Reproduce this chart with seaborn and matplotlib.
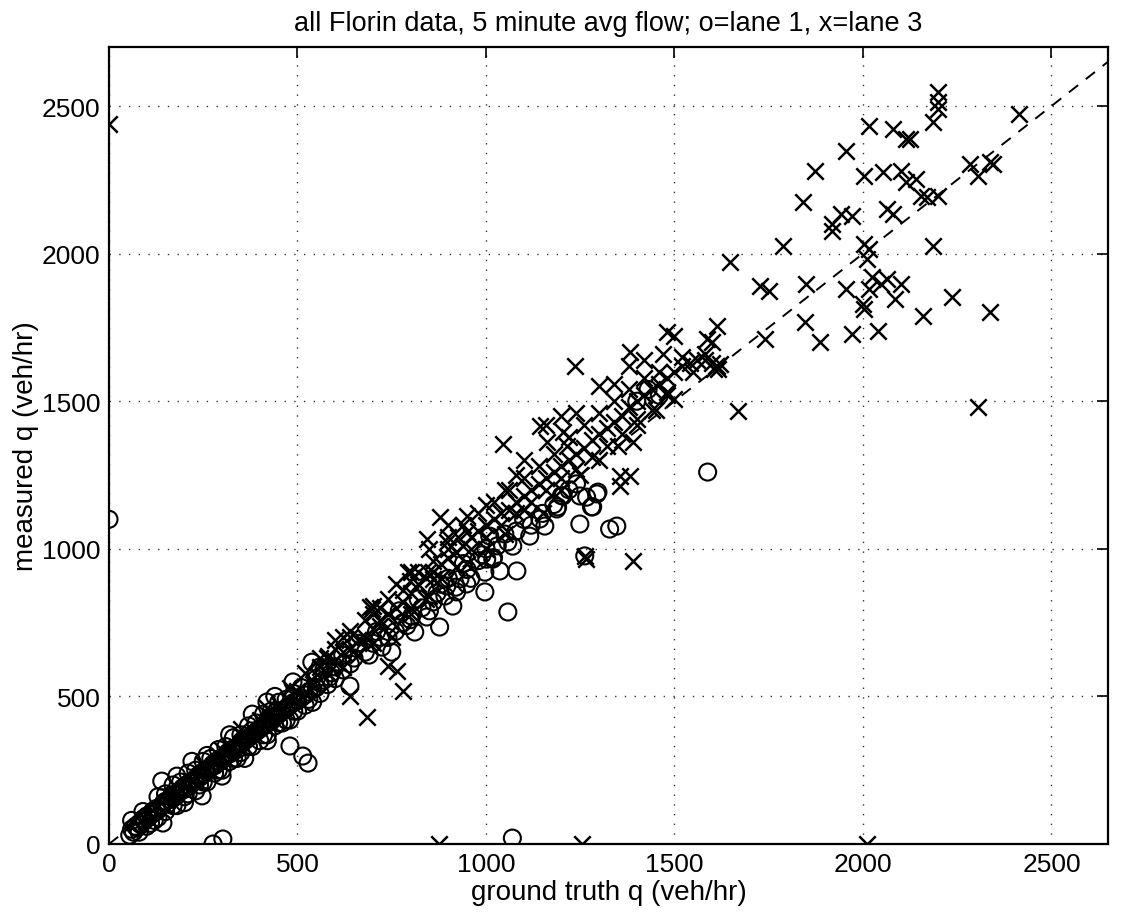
import matplotlib
matplotlib.use("Agg")
import matplotlib.pyplot as plt
import seaborn as sns
import pandas as pd

# ---- data ----
lane1_truth = [55, 60, 65, 70, 75, 80, 85, 90, 95, 100, 105, 110, 115, 120, 125, 130, 140, 145, 150, 155,
               160, 165, 170, 175, 180, 185, 190, 195, 200, 205, 210, 215, 220, 225, 230, 235, 240, 245, 250, 255,
               260, 265, 270, 275, 280, 285, 290, 295, 300, 305, 310, 315, 320, 325, 330, 335, 340, 345, 350, 355,
               360, 365, 370, 375, 380, 385, 390, 395, 400, 405, 410, 415, 420, 425, 430, 435, 440, 445, 450, 455,
               460, 465, 470, 475, 480, 490, 500, 510, 520, 530, 540, 550, 560, 570, 585,
               100, 120, 150, 180, 200, 230, 260, 300, 340, 380, 420, 460, 500, 130, 170, 210, 250, 290, 330, 370,
               410, 450, 490,
               60, 80, 90, 110, 130, 150, 170, 190, 210, 230, 250, 270, 290, 310, 330, 350, 370, 390, 410, 430,
               450, 470, 490, 510, 530, 550, 350, 320, 280, 240, 400, 440, 470, 520, 560, 580, 600, 620, 640, 660,
               690, 710, 740, 770, 790, 820, 850, 880, 920, 940, 960, 990, 1020,
               200, 260, 320, 380, 440, 300, 360, 420, 480, 540, 180, 220,
               140, 143, 247, 419, 488, 538, 514, 528, 480, 276, 302, 0, 1070,
               639, 724, 750, 803, 843, 877, 811, 912, 891, 922, 997, 1058, 896, 931, 949, 997, 1037, 1018, 1082,
               1002, 1249, 1249, 1280, 1294, 1262, 1143, 1156, 1116, 1071, 1058, 1188, 1204, 1010, 1347, 1297, 1267,
               1328, 1283, 1190, 1588,
               600, 620, 650, 680, 700, 720, 760, 780, 800, 830, 860, 870, 900, 950, 980, 1000, 1030, 1050, 1080,
               1100, 1120, 1150, 1180, 1200, 1220, 1240, 550, 570, 590, 560, 1400, 1430, 1460]
lane1_measured = [30, 50, 40, 60, 55, 70, 65, 85, 80, 95, 90, 100, 110, 105, 120, 115, 130, 140, 145, 135,
                  150, 160, 155, 170, 165, 175, 180, 190, 185, 200, 195, 210, 205, 215, 220, 230, 225, 240, 235, 250,
                  245, 255, 260, 270, 265, 280, 275, 290, 285, 295, 300, 310, 305, 320, 315, 325, 320, 335, 340, 345,
                  350, 355, 360, 365, 370, 375, 380, 385, 390, 395, 400, 405, 410, 420, 415, 425, 430, 435, 440, 445,
                  450, 455, 460, 465, 470, 480, 485, 495, 505, 515, 525, 530, 545, 555, 565,
                  60, 80, 110, 130, 160, 180, 210, 250, 290, 330, 370, 410, 450, 160, 200, 240, 280, 320, 360, 400,
                  440, 480, 510,
                  80, 40, 110, 70, 90, 170, 130, 210, 170, 250, 210, 290, 250, 330, 290, 370, 330, 410, 370, 450,
                  410, 490, 450, 530, 490, 580, 310, 280, 240, 200, 350, 400, 420, 470, 510, 540, 560, 640, 610, 680,
                  640, 720, 700, 790, 740, 830, 790, 880, 870, 950, 900, 980, 970,
                  140, 300, 370, 440, 500, 230, 290, 350, 420, 480, 230, 280,
                  213, 71, 163, 481, 549, 616, 298, 274, 332, 0, 17, 1100, 20,
                  535, 667, 650, 772, 769, 735, 718, 806, 840, 854, 854, 786, 874, 898, 881, 921, 925, 965, 925,
                  965, 1084, 1179, 1142, 1186, 976, 1101, 1077, 1043, 1009, 1023, 1135, 1179, 1043, 1077, 1192, 1175,
                  1067, 1142, 1142, 1260,
                  600, 590, 630, 650, 680, 700, 720, 750, 760, 800, 820, 850, 900, 930, 960, 1000, 1010, 1050, 1060,
                  1100, 1080, 1120, 1150, 1180, 1200, 1220, 560, 590, 580, 600, 1500, 1540, 1520]

lane3_truth = [250, 300, 350, 400, 450, 500, 350, 420, 480, 520, 560, 600, 640, 620,
               578, 541, 684, 639, 665, 692, 780, 581, 740, 763, 700, 697, 793, 798, 846, 859, 843, 877, 896, 925,
               949, 1045, 1143, 1161, 1204, 1214, 1262, 1265, 1390,
               600, 620, 640, 660, 680, 700, 720, 740, 760, 780, 800, 820, 840, 860, 880, 900, 920, 940, 960, 980,
               1000, 1020, 1040, 1060, 1080, 1100, 1120, 1140, 1160, 1180, 1200, 1220, 1240, 1260, 1280, 1300, 1320,
               1340, 1360, 1380, 1400, 1420, 1440, 1460, 1480, 1500, 1520, 1540, 1560, 1580, 1600, 1610, 1615,
               700, 750, 800, 850, 900, 950, 1000, 1050, 1100, 1150, 1200, 1250, 1300, 1350, 1400, 1450, 1300, 1340,
               1380, 1420, 1470, 1500, 1240, 1200, 1160, 1100, 1080, 1050, 1000, 950, 900, 850, 800, 760, 720,
               560, 600, 620, 640, 660, 680, 700, 720, 740, 760, 780, 800, 820, 840, 860, 880, 900, 920, 940, 960,
               980, 1000, 1020, 1040, 1060, 1080, 1100, 1120, 1140, 1160, 1180, 1200, 1220, 1240, 1260, 1280, 1300,
               1320, 1340, 1360, 1380, 1400, 1420, 1440, 1460, 1480, 1520, 1550, 1580, 1600,
               1646, 1726, 1752, 1739, 1479, 1612, 1585, 1381, 1235, 1612, 1605, 1620, 1668, 1500, 1479, 1389, 1355,
               1381, 1355, 1787,
               2198, 2198, 2198, 2185, 2415, 2017, 2079, 2115, 2124, 1956, 1872, 2004, 2052, 2102, 2115, 2142, 2155,
               2171, 2198, 2283, 2304, 2336, 2344, 1840, 1943, 1970, 1919, 1919, 2063, 2079, 2004, 2017, 2010, 2185,
               1850, 1956, 2025, 2063, 2017, 2049, 2102, 2084, 1999, 2004, 2235, 2336, 2158, 1845, 1885, 1972, 2039,
               2304,
               0, 875, 1255, 2010]
lane3_measured = [270, 320, 370, 420, 470, 520, 390, 460, 530, 580, 630, 690, 720, 700,
                  630, 542, 430, 501, 694, 803, 518, 637, 603, 586, 806, 796, 921, 891, 921, 898, 1033, 1108, 1023,
                  1040, 1057, 1355, 1416, 1362, 1396, 1348, 976, 965, 960,
                  620, 650, 660, 690, 700, 730, 760, 780, 800, 820, 850, 880, 900, 920, 950, 970, 990, 1010, 1040,
                  1060, 1080, 1100, 1120, 1130, 1160, 1180, 1200, 1220, 1240, 1260, 1280, 1300, 1320, 1340, 1370,
                  1390, 1410, 1430, 1450, 1480, 1500, 1520, 1540, 1560, 1580, 1600, 1620, 1630, 1640, 1640, 1630,
                  1620, 1610,
                  780, 700, 780, 840, 1000, 950, 1000, 1050, 1130, 1120, 1200, 1250, 1300, 1350, 1420, 1470, 1550,
                  1560, 1620, 1640, 1660, 1720, 1460, 1450, 1420, 1300, 1250, 1200, 1150, 1110, 1080, 1000, 920, 880,
                  800,
                  600, 660, 600, 700, 640, 760, 680, 740, 830, 740, 860, 800, 920, 830, 960, 900, 1040, 940, 1080,
                  1000, 1120, 1040, 1160, 1080, 1200, 1120, 1240, 1160, 1280, 1200, 1320, 1240, 1380, 1270, 1420,
                  1310, 1460, 1350, 1500, 1390, 1540, 1440, 1580, 1470, 1600, 1520, 1650, 1600, 1660, 1700,
                  1971, 1890, 1873, 1711, 1734, 1755, 1711, 1667, 1619, 1619, 1610, 1625, 1467, 1507, 1531, 1362,
                  1247, 1247, 1213, 2027,
                  2547, 2513, 2490, 2446, 2473, 2432, 2422, 2388, 2388, 2348, 2280, 2263, 2276, 2280, 2243, 2253,
                  2195, 2192, 2195, 2303, 2263, 2310, 2303, 2175, 2134, 2127, 2100, 2077, 2151, 2134, 2033, 2016,
                  1982, 2026, 1897, 1880, 1921, 1914, 1880, 1897, 1897, 1846, 1829, 1812, 1853, 1802, 1789, 1768,
                  1700, 1728, 1738, 1480,
                  2440, 0, 0, 0]

x_ticks = [0, 500, 1000, 1500, 2000, 2500]
y_ticks = [0, 500, 1000, 1500, 2000, 2500]
x_limits = [0, 2650]
y_limits = [0, 2700]

title_text = "all Florin data, 5 minute avg flow; o=lane 1, x=lane 3"
x_label = "ground truth q (veh/hr)"
y_label = "measured q (veh/hr)"

# ---- figure ----
sns.set_theme(style="white")
plt.rcParams["font.family"] = ["Liberation Sans", "DejaVu Sans"]

fig = plt.figure(figsize=(11.26, 9.2), dpi=100)
ax = fig.add_axes([109 / 1126, 75 / 920, 999 / 1126, 797 / 920])

df1 = pd.DataFrame({"truth": lane1_truth, "measured": lane1_measured})
df3 = pd.DataFrame({"truth": lane3_truth, "measured": lane3_measured})

sns.scatterplot(data=df1, x="truth", y="measured", ax=ax, marker="o", s=150,
                color="black", linewidth=1.5, legend=False, zorder=3)
circles = ax.collections[-1]
circles.set_facecolor("none")
circles.set_edgecolor("black")

sns.scatterplot(data=df3, x="truth", y="measured", ax=ax, marker="x", s=140,
                color="black", linewidth=1.8, legend=False, zorder=3)

sns.lineplot(x=[0, x_limits[1]], y=[0, x_limits[1]], ax=ax, color="black",
             linestyle=(0, (6, 5)), linewidth=1.4, zorder=2)

ax.set_xlim(x_limits)
ax.set_ylim(y_limits)
ax.set_xticks(x_ticks)
ax.set_yticks(y_ticks)
ax.grid(True, linestyle=(0, (1, 6)), color="black", linewidth=1.0, alpha=0.8)
ax.tick_params(direction="in", length=8, width=1.2, top=True, right=True,
               labelsize=19, colors="black", pad=6)
for sp in ax.spines.values():
    sp.set_visible(True)
    sp.set_color("black")
    sp.set_linewidth(1.6)

ax.set_xlabel(x_label, fontsize=20, color="black", labelpad=2)
ax.set_ylabel(y_label, fontsize=20, color="black", labelpad=2)
ax.set_title(title_text, fontsize=19.5, color="black", pad=12)

fig.savefig("out.png", dpi=100, facecolor="white")
